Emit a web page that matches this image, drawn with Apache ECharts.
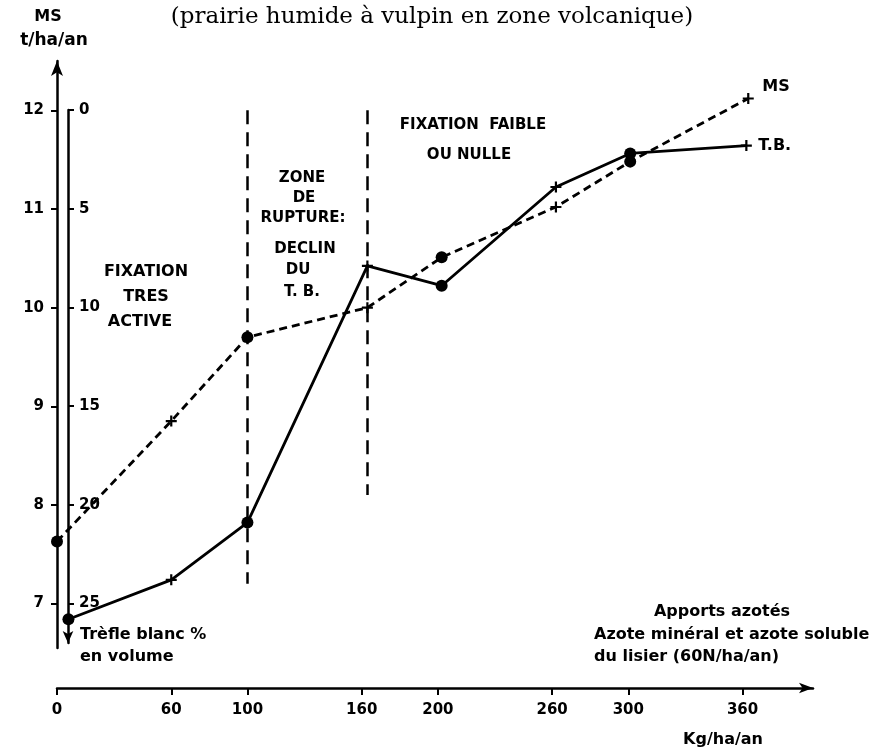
<!DOCTYPE html>
<html><head><meta charset="utf-8">
<script src="https://cdn.jsdelivr.net/npm/echarts@6/dist/echarts.min.js"></script>
<style>html,body{margin:0;padding:0;background:#fff}#c{width:875px;height:750px}</style>
</head><body><div id="c"></div>
<script>
// ---- data ----
const xTickValues = [0, 60, 100, 160, 200, 260, 300, 360];
const msTickValues = [7, 8, 9, 10, 11, 12];
const tbTickValues = [0, 5, 10, 15, 20, 25];
const msX = [0, 60, 100, 163, 202, 262, 301, 363];
const msValues = [7.63, 8.85, 9.70, 10.00, 10.51, 11.02, 11.48, 12.12];
const msMarkers = ['circle', 'plus', 'circle', 'plus', 'circle', 'plus', 'circle', 'plus'];
const tbX = [6, 60, 100, 163, 202, 262, 301, 362];
const tbValues = [25.8, 23.8, 20.9, 7.9, 8.9, 3.9, 2.2, 1.8];
const tbMarkers = ['circle', 'plus', 'circle', 'plus', 'circle', 'plus', 'circle', 'plus'];
const dividerX = [100, 163];
const dividerTop = [12.0, 12.0];
const dividerBottom = [7.2, 8.1];

const PLUS = 'path://M4,0H6V4H10V6H6V10H4V6H0V4H4Z';
const FONT = '"DejaVu Sans", sans-serif';
const INK = '#000';

function pts(xs, ys, marks) {
  return xs.map((x, i) => ({
    value: [x, ys[i]],
    symbol: marks[i] === 'plus' ? PLUS : 'circle',
    symbolSize: marks[i] === 'plus' ? 11 : 12
  }));
}

const chart = echarts.init(document.getElementById('c'), null, {renderer: 'canvas'});

const lbl = (text, x, y, size, align) => ({
  type: 'text', silent: true,
  style: {text: text, x: x, y: y, fill: INK, font: 'bold ' + (size || 15) + 'px ' + FONT,
          align: align || 'center', verticalAlign: 'middle'}
});

chart.setOption({
  animation: false,
  backgroundColor: '#fff',
  grid: [
    {left: 57, right: 62, top: 61, bottom: 102},
    {left: 57, right: 62, top: 110, bottom: 107}
  ],
  xAxis: [
    {
      type: 'value', gridIndex: 0, min: 0, max: 397, position: 'bottom', offset: 40,
      axisLine: {show: true, lineStyle: {color: INK, width: 2.5}, symbol: ['none', 'arrow'], symbolSize: [8, 14]},
      axisTick: {show: true, customValues: xTickValues, length: 7, lineStyle: {color: INK, width: 2}},
      axisLabel: {customValues: xTickValues, margin: 15, color: INK, fontSize: 15, fontWeight: 'bold', fontFamily: FONT},
      splitLine: {show: false}
    },
    {type: 'value', gridIndex: 1, min: 0, max: 397, show: false}
  ],
  yAxis: [
    {
      type: 'value', gridIndex: 0, min: 6.55, max: 12.5, position: 'left',
      axisLine: {show: true, lineStyle: {color: INK, width: 2.5}, symbol: ['none', 'arrow'], symbolSize: [9, 15]},
      axisTick: {show: true, customValues: msTickValues, length: 6, lineStyle: {color: INK, width: 2}},
      axisLabel: {customValues: msTickValues, margin: 13, color: INK, fontSize: 15, fontWeight: 'bold', fontFamily: FONT},
      splitLine: {show: false}
    },
    {
      type: 'value', gridIndex: 1, min: 0, max: 27, inverse: true, position: 'left', offset: -11,
      axisLine: {show: true, lineStyle: {color: INK, width: 2.5}, symbol: ['arrow', 'none'], symbolSize: [8, 12]},
      axisTick: {show: true, inside: true, customValues: tbTickValues, length: 6, lineStyle: {color: INK, width: 2}},
      axisLabel: {inside: true, customValues: tbTickValues, margin: 11, color: INK, fontSize: 15, fontWeight: 'bold', fontFamily: FONT},
      splitLine: {show: false}
    }
  ],
  series: [
    {
      name: 'MS', type: 'line', xAxisIndex: 0, yAxisIndex: 0,
      data: pts(msX, msValues, msMarkers),
      lineStyle: {color: INK, width: 2.8, type: [8, 5]},
      itemStyle: {color: INK},
      endLabel: {show: true, formatter: 'MS', offset: [6, -12], color: INK, fontSize: 16, fontWeight: 'bold', fontFamily: FONT},
      markLine: {
        silent: true, symbol: ['none', 'none'], label: {show: false},
        lineStyle: {color: INK, width: 2.5, type: [14, 8]},
        data: dividerX.map((x, i) => [{coord: [x, dividerTop[i]]}, {coord: [x, dividerBottom[i]]}])
      },
      z: 3
    },
    {
      name: 'T.B.', type: 'line', xAxisIndex: 1, yAxisIndex: 1,
      data: pts(tbX, tbValues, tbMarkers),
      lineStyle: {color: INK, width: 2.8, type: 'solid'},
      itemStyle: {color: INK},
      endLabel: {show: true, formatter: 'T.B.', offset: [4, 0], color: INK, fontSize: 16, fontWeight: 'bold', fontFamily: FONT},
      z: 3
    }
  ],
  graphic: [
    {type: 'text', silent: true, style: {text: '(prairie humide à vulpin en zone volcanique)', x: 432, y: 17,
      fill: INK, font: '23px "DejaVu Serif", serif', align: 'center', verticalAlign: 'middle'}},
    lbl('MS', 48, 17, 16), lbl('t/ha/an', 54, 41, 17),
    lbl('FIXATION', 146, 272, 16), lbl('TRES', 146, 297, 16), lbl('ACTIVE', 140, 322, 16),
    lbl('ZONE', 302, 178), lbl('DE', 304, 198), lbl('RUPTURE:', 303, 218),
    lbl('DECLIN', 305, 249), lbl('DU', 298, 270), lbl('T. B.', 302, 292),
    lbl('FIXATION  FAIBLE', 473, 125), lbl('OU NULLE', 469, 155),
    lbl('Apports azotés', 722, 612, 16),
    lbl('Azote minéral et azote soluble', 594, 635, 16, 'left'),
    lbl('du lisier (60N/ha/an)', 594, 657, 16, 'left'),
    lbl('Trèfle blanc %', 80, 635, 16, 'left'),
    lbl('en volume', 80, 657, 16, 'left'),
    lbl('Kg/ha/an', 723, 740, 16)
  ]
});
</script></body></html>
